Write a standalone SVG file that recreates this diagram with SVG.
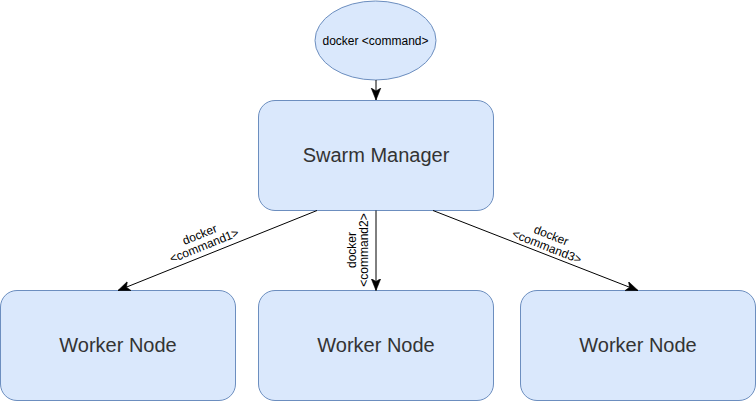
<svg xmlns="http://www.w3.org/2000/svg" width="756" height="401" viewBox="0 0 756 401">
<style>
.box{fill:#dae8fc;stroke:#6c8ebf;stroke-width:1}
.ntxt{font-family:"Liberation Sans",Arial,sans-serif;font-size:20px;fill:#333333;text-anchor:middle}
.stxt{font-family:"Liberation Sans",Arial,sans-serif;font-size:12px;fill:#000000;text-anchor:middle}
.ltxt{font-family:"Liberation Sans",Arial,sans-serif;font-size:12px;fill:#000000;text-anchor:middle}
.edge{fill:none;stroke:#000000;stroke-width:1}
</style>
<defs>
<marker id="arr" markerUnits="userSpaceOnUse" markerWidth="12" markerHeight="12" viewBox="0 0 10 8" refX="10" refY="4" orient="auto">
<path d="M0,0 L10,4 L0,8 L2.5,4 Z" fill="#000000" stroke="#000000" stroke-width="0.5"/>
</marker>
</defs>
<g id="cmd">
<ellipse class="box" cx="375.5" cy="40.5" rx="60.5" ry="39.5"/>
<text class="stxt" x="375.5" y="44.5">docker &lt;command&gt;</text>
</g>
<g id="manager">
<rect class="box" x="258.5" y="100.5" width="235" height="110" rx="16.5" ry="16.5"/>
<text class="ntxt" x="376" y="161.5">Swarm Manager</text>
</g>
<g id="worker1">
<rect class="box" x="0.5" y="290.5" width="235" height="110" rx="16.5" ry="16.5"/>
<text class="ntxt" x="118" y="351.5">Worker Node</text>
</g>
<g id="worker2">
<rect class="box" x="258.5" y="290.5" width="235" height="110" rx="16.5" ry="16.5"/>
<text class="ntxt" x="376" y="351.5">Worker Node</text>
</g>
<g id="worker3">
<rect class="box" x="520.5" y="290.5" width="235" height="110" rx="16.5" ry="16.5"/>
<text class="ntxt" x="638" y="351.5">Worker Node</text>
</g>
<g id="connectors">
<path class="edge" d="M376,80 L376,100" marker-end="url(#arr)"/>
<path class="edge" d="M317,210.5 L118,290.5" marker-end="url(#arr)"/>
<path class="edge" d="M376,210.5 L376,290.5" marker-end="url(#arr)"/>
<path class="edge" d="M433,210.5 L638,290.5" marker-end="url(#arr)"/>
<g transform="translate(202,240) rotate(-22)">
<text class="ltxt" x="0" y="-2">docker</text>
<text class="ltxt" x="0" y="10">&lt;command1&gt;</text>
</g>
<g transform="translate(358,250) rotate(-90)">
<text class="ltxt" x="0" y="-2">docker</text>
<text class="ltxt" x="0" y="10">&lt;command2&gt;</text>
</g>
<g transform="translate(549,241) rotate(21.5)">
<text class="ltxt" x="0" y="-2">docker</text>
<text class="ltxt" x="0" y="10">&lt;command3&gt;</text>
</g>
</g>
</svg>
